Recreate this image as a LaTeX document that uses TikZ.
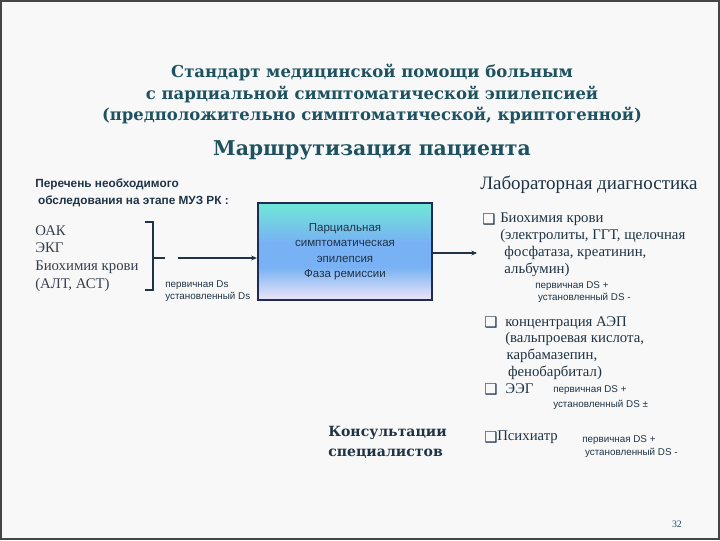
\documentclass[tikz,border=0pt]{standalone}
\usepackage{fontspec}
\setmainfont{Liberation Serif}
\setsansfont{Liberation Sans}
\newfontfamily\headfont{DejaVu Serif}
\newfontfamily\bulletfont{DejaVu Sans}
\usetikzlibrary{arrows.meta, positioning}
\definecolor{SlideTeal}{HTML}{1E5260}
\definecolor{SlideNavy}{HTML}{1F3346}
\definecolor{SlideGrey}{HTML}{34404E}
\definecolor{SlideFrame}{HTML}{454545}
\definecolor{SlidePaper}{HTML}{F8F8F8}
\definecolor{BoxAqua}{HTML}{6FE8D6}
\definecolor{BoxBlue}{HTML}{78B2F4}
\definecolor{BoxLilac}{HTML}{EDE6F8}
\definecolor{BoxEdge}{HTML}{1D2B55}
\pgfdeclareverticalshading{diagshade}{100bp}{color(0bp)=(BoxLilac); color(25bp)=(BoxLilac); color(42bp)=(BoxBlue); color(55bp)=(BoxBlue); color(75bp)=(BoxAqua); color(100bp)=(BoxAqua)}
\tikzset{
    % Text styles
    slidetitle/.style={
        font=\headfont\bfseries\fontsize{11.7}{15.3}\selectfont,
        text=SlideTeal,
        align=center,
        inner sep=0pt
    },
    slidehead/.style={
        font=\headfont\bfseries\fontsize{14.5}{18}\selectfont,
        text=SlideTeal,
        inner sep=0pt
    },
    listhead/.style={
        font=\sffamily\bfseries\fontsize{8.4}{12}\selectfont,
        text=SlideNavy,
        align=left,
        anchor=north west,
        inner sep=0pt
    },
    listbody/.style={
        font=\fontsize{10.5}{12.6}\selectfont,
        text=SlideGrey,
        align=left,
        anchor=north west,
        inner sep=0pt
    },
    labitem/.style={
        font=\fontsize{10.5}{12}\selectfont,
        text=SlideNavy,
        align=left,
        anchor=north west,
        inner sep=0pt
    },
    dsnote/.style={
        font=\sffamily\fontsize{7}{8.6}\selectfont,
        text=SlideNavy,
        align=left,
        anchor=north west,
        inner sep=0pt
    },
    chk/.style={
        font=\bulletfont\bfseries\fontsize{10.5}{10.5}\selectfont,
        text=SlideNavy,
        inner sep=0pt
    },
    % Box style
    diagbox/.style={
        rectangle,
        draw=BoxEdge,
        line width=1.6pt,
        shading=diagshade,
        minimum width=123.8pt,
        minimum height=69pt,
        align=center,
        font=\sffamily\fontsize{8.2}{11}\selectfont,
        text=SlideNavy
    },
    % Arrow style
    arrow/.style={
        -{Stealth[length=4pt, width=3.5pt]},
        line width=0.8pt,
        draw=SlideNavy
    }
}

\begin{document}
\begin{tikzpicture}[x=0.025cm, y=-0.025cm]
    % Slide background
    \draw[fill=SlidePaper, draw=SlideFrame, line width=1.2pt] (0.8,0.8) rectangle (719.2,539.2);
    \useasboundingbox (0,0) rectangle (720,540);

    % Titles
    \node[slidetitle] (title) at (372,94) {Стандарт медицинской помощи больным\\с парциальной симптоматической эпилепсией\\(предположительно симптоматической, криптогенной)};
    \node[slidehead] (route) at (372,150) {Маршрутизация пациента};

    % Left column
    \node[listhead] (survey) at (35,179) {Перечень необходимого\\\hspace*{2pt}обследования на этапе МУЗ РК :};
    \node[listbody] (tests) at (35,225) {ОАК\\ЭКГ\\Биохимия крови\\(АЛТ, АСТ)};
    \draw[SlideNavy, line width=0.8pt] (145,222) -- (153,222) -- (153,290) -- (145,290);
    \draw[SlideNavy, line width=0.8pt] (153,258) -- (165,258);
    \node[dsnote] (dsleft) at (165,280) {первичная Ds\\установленный Ds};
    \coordinate (brk) at (178,258);

    % Diagnosis box
    \node[diagbox] (diag) at (345,251.5) {Парциальная\\симптоматическая\\эпилепсия\\Фаза ремиссии};
    \coordinate (lab) at (477,253);

    % Arrows
    \draw[line width=2pt, SlideNavy] (brk) -- ++(11,0);
    \draw[arrow] (brk) -- (diag.west |- brk);
    \draw[arrow] (diag.east |- lab) -- (lab);

    % Right column
    \node[font=\fontsize{13.5}{15}\selectfont, text=SlideNavy, anchor=west, inner sep=0pt] (labhead) at (480,185) {Лабораторная диагностика};

    \node[labitem] (blood) at (500,213) {Биохимия крови\\(электролиты, ГГТ, щелочная\\\hspace*{3pt}фосфатаза, креатинин,\\\hspace*{3pt}альбумин)};
    \node[chk, left=3pt of blood.north west, anchor=north east] (b1) {❑};
    \node[dsnote] (dsblood) at (535,281) {первичная DS +\\\hspace*{2pt}установленный DS -};

    \node[labitem] (aep) at (505,316) {концентрация АЭП\\(вальпроевая кислота,\\\hspace*{1pt}карбамазепин,\\\hspace*{2pt}фенобарбитал)};
    \node[chk, anchor=north west] (b2) at (484,316) {❑};

    \node[labitem] (eeg) at (505,383) {ЭЭГ};
    \node[chk, anchor=north west] (b3) at (484,383) {❑};
    \node[dsnote, font=\sffamily\fontsize{7}{10.7}\selectfont] (dseeg) at (553,385) {первичная DS +\\установленный DS ±};

    % Consultations
    \node[font=\headfont\bfseries\fontsize{10}{14.2}\selectfont, text=SlideNavy, align=left, anchor=north west, inner sep=0pt] (consult) at (328,426) {Консультации\\специалистов};
    \node[labitem] (psych) at (497,431) {Психиатр};
    \node[chk, anchor=north west] (b4) at (484,431) {❑};
    \node[dsnote, font=\sffamily\fontsize{7}{9.2}\selectfont] (dspsych) at (582,435) {первичная DS +\\\hspace*{2pt}установленный DS -};

    % Page number
    \node[font=\fontsize{7}{8}\selectfont, text=SlideTeal, inner sep=0pt] (page) at (677,524) {32};
\end{tikzpicture}
\end{document}
